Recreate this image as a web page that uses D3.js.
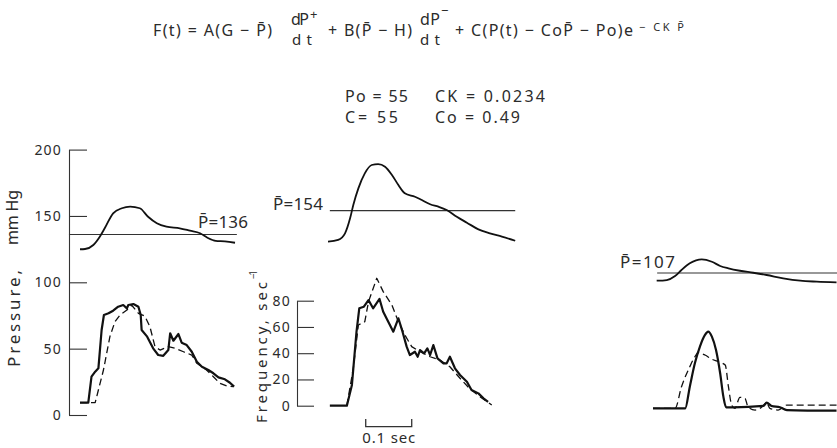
<!DOCTYPE html>
<html>
<head>
<meta charset="utf-8">
<script src="https://cdn.jsdelivr.net/npm/d3@7"></script>
<style>
html, body { margin: 0; padding: 0; background: #fff; }
svg text { font-family: "Noto Sans", sans-serif; fill: #2b2b2b; }
</style>
</head>
<body>
<svg id="chart" width="837" height="448"></svg>
<script>
//Datos: [tiempo en ms, valor]
const pressureTicks = [0, 50, 100, 150, 200];
const freqTicks = [0, 20, 40, 60, 80];
const meanPressures = [136, 154, 107];

//Panel izquierdo
const leftPressure = [[0,124.9],[11,125.1],[29,128.1],[43,134.4],[54,140.9],[72,152.0],[91,155.8],[109,157.0],[130,155.8],[148,149.4],[167,144.5],[188,141.9],[217,140.7],[239,138.9],[261,137.0],[277,133.6],[295,131.2],[315,130.8],[337,129.8]];
const leftFreqObs = [[0,2.3],[18,2.3],[25,22.1],[33,25.9],[40,28.5],[47,57.7],[52,69.1],[62,70.4],[72,72.4],[83,75.4],[94,76.7],[102,74.2],[105,76.7],[116,77.5],[127,75.4],[132,69.1],[134,57.7],[146,52.6],[159,43.7],[170,38.6],[181,38.0],[192,42.4],[196,55.2],[203,49.5],[214,54.6],[221,48.0],[232,46.2],[243,41.1],[254,33.5],[265,29.7],[279,27.2],[290,24.7],[301,21.6],[315,20.1],[326,17.5],[335,14.5]];
const leftFreqModel = [[0,2.3],[33,2.3],[51,27.2],[65,52.6],[76,64],[87,69.1],[102,72.9],[112,76.7],[127,70.4],[141,68.3],[152,60.2],[163,45],[174,42.4],[192,45],[207,43.7],[225,41.1],[243,38.6],[254,32.3],[275,27.2],[290,22.1],[304,17.1],[319,15],[333,14.5]];

//Panel central
const midPressure = [[0,130.6],[22,131.9],[37,136.9],[48,148.2],[55,158.3],[66,170.8],[80,182.1],[95,188.4],[109,189.1],[124,187.1],[139,180.9],[153,173.3],[167,167.1],[189,164.5],[204,162.0],[222,158.8],[240,157.0],[258,154.5],[280,149.4],[302,144.9],[327,139.9],[352,136.9],[378,134.4],[407,131.3]];
const midFreqObs = [[4,0],[41,0],[52,15.8],[62,56.4],[68,74.2],[78,75.4],[88,80.5],[98,74.2],[112,81.3],[120,71.6],[131,64],[142,56.4],[153,66.6],[162,56.4],[171,45],[178,38.6],[189,41.1],[195,37.3],[200,42.4],[209,39.9],[216,43.7],[222,38.6],[229,46.2],[238,36.1],[251,32.3],[258,32.3],[265,37.3],[276,28.5],[287,23.4],[302,18.3],[312,12],[327,9.4],[338,5.6],[348,3]];
const midFreqModel = [[41,0],[55,28.5],[66,61.5],[80,64],[88,79.2],[106,97.1],[120,86.9],[139,76.7],[153,64],[167,53.9],[182,45],[200,41.1],[222,37.3],[243,34.8],[265,29.7],[287,20.9],[307,13.3],[330,6.9],[356,0.5]];

//Panel derecho
const rightPressure = [[8,101.2],[30,101.7],[48,104.7],[62,109.3],[80,114.3],[106,117.3],[128,115.5],[146,112.3],[164,110.5],[189,108.7],[218,107.2],[247,105.5],[283,103],[320,101.2],[356,100.5],[399,100]];
const rightFreqObs = [[0,-2],[70,-2],[80,14.5],[91,32.3],[102,45],[113,53.9],[120,56.4],[128,52.6],[137,42.4],[146,24.7],[153,6.9],[159,-1.2],[175,-1.2],[240,-0.2],[247,2.3],[258,-0.2],[276,-1.2],[291,-3.3],[399,-3.8]];
const rightFreqModel = [[0,-2],[48,-2],[62,14.5],[80,29.7],[91,37.3],[98,40.4],[113,38.6],[128,35.4],[142,33.5],[157,31],[164,14.5],[171,0.5],[178,-2],[189,6.4],[200,5.6],[207,-1.2],[222,-3.3],[236,-1.2],[247,2.3],[254,-2],[272,-3.3],[291,0.5],[399,0.5]];

//Extensión de las líneas de presión media (ms)
const meanLineSpans = [[-24, 341], [4, 407], [9, 400]];
//Barra de escala: 0.1 s
const scaleBar = [82, 182];

const svg = d3.select('#chart');
svg.append('rect').attr('width', 837).attr('height', 448).attr('fill', '#fff');

const yP = d3.scaleLinear().domain([0, 200]).range([415, 149.6]);
const yF = d3.scaleLinear().domain([0, 80]).range([405.7, 300.7]);
const xs = [
    d3.scaleLinear().domain([0, 400]).range([80, 264]),
    d3.scaleLinear().domain([0, 400]).range([328, 512]),
    d3.scaleLinear().domain([0, 400]).range([653, 837])
];

function label(x, y, str, size, width, anchor) {
    let t = svg.append('text')
        .attr('x', x).attr('y', y)
        .attr('font-size', size)
        .attr('text-anchor', anchor || 'start')
        .text(str);
    if (width) t.attr('textLength', width).attr('lengthAdjust', 'spacing');
    return t;
}

function vlabel(x, y, str, size, width) {
    let t = svg.append('text')
        .attr('transform', 'translate(' + x + ',' + y + ') rotate(-90)')
        .attr('font-size', size)
        .text(str);
    if (width) t.attr('textLength', width).attr('lengthAdjust', 'spacing');
    return t;
}

//Fórmula
label(153, 36, 'F(t) = A(G \u2212 P\u0304)', 16, 119);
label(291, 25, 'dP', 16, 18);
label(310, 19, '+', 13);
label(292, 45, 'dt', 15, 20);
label(328, 36, '+ B(P\u0304 \u2212 H)', 16, 84);
label(420, 25, 'dP', 16, 20);
label(441, 15, '\u2212', 13);
label(420, 45, 'dt', 15, 20);
label(455, 36, '+ C(P(t) \u2212 CoP\u0304 \u2212 Po)e', 16, 178);
label(639, 31, '\u2212 CK P\u0304', 11, 45);

//Parámetros
label(345, 102, 'Po = 55', 16, 63);
label(435, 102, 'CK = 0.0234', 16, 110);
label(345, 123, 'C= 55', 16, 53);
label(435, 123, 'Co = 0.49', 16, 85);

//Ejes
function styleAxis(g) {
    g.attr('font-family', null).attr('font-size', null);
    g.selectAll('path, line').attr('stroke', '#333').attr('stroke-width', 1.1);
    g.selectAll('text').attr('font-size', 14).attr('letter-spacing', 1.2).attr('fill', '#333');
}

svg.append('g')
    .attr('transform', 'translate(69,0)')
    .call(d3.axisLeft(yP).tickValues(pressureTicks).tickSize(-18).tickSizeOuter(0).tickPadding(7))
    .call(styleAxis);

svg.append('g')
    .attr('transform', 'translate(297,0)')
    .call(d3.axisLeft(yF).tickValues(freqTicks).tickSize(-17).tickSizeOuter(0).tickPadding(6))
    .call(styleAxis);

vlabel(20, 367, 'Pressure,', 17, 97);
vlabel(18, 245, 'mm Hg', 16, 55);
vlabel(267, 423, 'Frequency, sec', 15, 141);
vlabel(257, 279, '\u22121', 10, 9);

//Líneas de presión media
meanPressures.forEach(function(p, i) {
    svg.append('line')
        .attr('x1', xs[i](meanLineSpans[i][0]))
        .attr('x2', xs[i](meanLineSpans[i][1]))
        .attr('y1', yP(p)).attr('y2', yP(p))
        .attr('stroke', '#333').attr('stroke-width', 1.1);
});
label(198, yP(136) - 7, 'P\u0304=136', 17, 50);
label(323, yP(154) - 1, 'P\u0304=154', 17, 50, 'end');
label(620, yP(107) - 5, 'P\u0304=107', 17, 55);

//Curvas
function curve(data, x, y, width, dashed, smooth) {
    let line = d3.line()
        .x(function(d) { return x(d[0]); })
        .y(function(d) { return y(d[1]); })
        .curve(smooth ? d3.curveMonotoneX : d3.curveLinear);
    svg.append('path')
        .datum(data)
        .attr('d', line)
        .attr('fill', 'none')
        .attr('stroke', '#111')
        .attr('stroke-width', width)
        .attr('stroke-linejoin', 'round')
        .attr('stroke-dasharray', dashed ? '7,4' : null);
}

curve(leftPressure, xs[0], yP, 1.8, false, true);
curve(midPressure, xs[1], yP, 1.8, false, true);
curve(rightPressure, xs[2], yP, 1.8, false, true);

curve(leftFreqModel, xs[0], yF, 1.3, true, false);
curve(leftFreqObs, xs[0], yF, 2.2, false, false);
curve(midFreqModel, xs[1], yF, 1.3, true, false);
curve(midFreqObs, xs[1], yF, 2.2, false, false);
curve(rightFreqModel, xs[2], yF, 1.3, true, true);
curve(rightFreqObs, xs[2], yF, 2.2, false, true);

//Barra de tiempo
svg.append('path')
    .attr('d', 'M' + xs[1](scaleBar[0]) + ',419V426.7H' + xs[1](scaleBar[1]) + 'V419')
    .attr('fill', 'none').attr('stroke', '#333').attr('stroke-width', 1.3);
label((xs[1](scaleBar[0]) + xs[1](scaleBar[1])) / 2, 443, '0.1 sec', 15, 53, 'middle');
</script>
</body>
</html>
